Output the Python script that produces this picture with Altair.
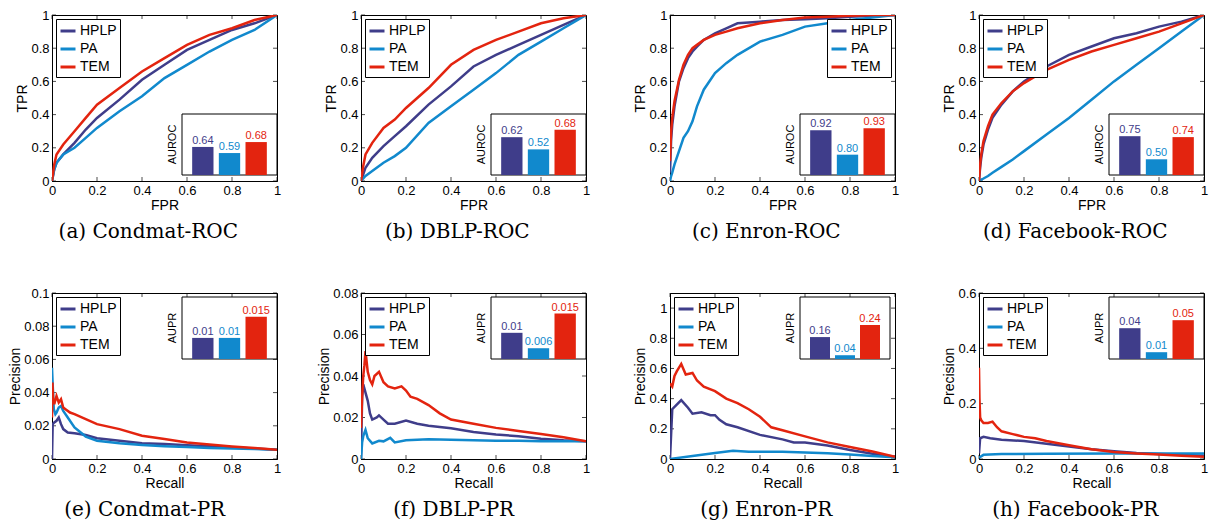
import altair as alt
import pandas as pd

METHODS = ["HPLP", "PA", "TEM"]
COLORS = ["#3f3d8a", "#1189cd", "#e3240f"]
FONT = "Liberation Sans"
SERIF = "DejaVu Serif"

# ---------------- ROC panels (shared FPR grid per panel) ----------------
a_fpr = [0, 0.01, 0.02, 0.05, 0.1, 0.15, 0.2, 0.3, 0.4, 0.5, 0.6, 0.7, 0.8, 0.9, 1.0]
a_HPLP = [0, 0.07, 0.11, 0.16, 0.23, 0.31, 0.38, 0.49, 0.61, 0.70, 0.79, 0.85, 0.91, 0.95, 1.0]
a_PA = [0, 0.07, 0.11, 0.16, 0.20, 0.26, 0.32, 0.42, 0.51, 0.62, 0.70, 0.78, 0.85, 0.91, 1.0]
a_TEM = [0, 0.10, 0.16, 0.22, 0.30, 0.38, 0.46, 0.56, 0.66, 0.74, 0.82, 0.88, 0.92, 0.97, 1.0]

b_fpr = [0, 0.01, 0.02, 0.05, 0.1, 0.15, 0.2, 0.3, 0.4, 0.5, 0.6, 0.7, 0.8, 0.9, 1.0]
b_HPLP = [0, 0.04, 0.08, 0.14, 0.21, 0.27, 0.33, 0.46, 0.57, 0.69, 0.76, 0.82, 0.88, 0.94, 1.0]
b_PA = [0, 0.015, 0.03, 0.06, 0.11, 0.15, 0.20, 0.35, 0.45, 0.55, 0.65, 0.76, 0.84, 0.92, 1.0]
b_TEM = [0, 0.09, 0.16, 0.23, 0.32, 0.37, 0.44, 0.56, 0.70, 0.79, 0.85, 0.90, 0.95, 0.98, 1.0]

c_fpr = [0, 0.005, 0.01, 0.02, 0.04, 0.06, 0.08, 0.1, 0.12, 0.15, 0.2, 0.25, 0.3, 0.4, 0.5, 0.6, 0.7, 0.8, 0.9, 1.0]
c_HPLP = [0.05, 0.25, 0.34, 0.45, 0.60, 0.68, 0.74, 0.78, 0.81, 0.85, 0.89, 0.92, 0.95, 0.96, 0.97, 0.975, 0.98, 0.99, 0.995, 1.0]
c_PA = [0, 0.03, 0.05, 0.10, 0.18, 0.26, 0.30, 0.36, 0.45, 0.55, 0.65, 0.71, 0.76, 0.84, 0.88, 0.93, 0.95, 0.97, 0.985, 1.0]
c_TEM = [0.12, 0.30, 0.38, 0.48, 0.61, 0.70, 0.76, 0.80, 0.82, 0.85, 0.88, 0.90, 0.92, 0.95, 0.97, 0.985, 0.99, 0.995, 1.0, 1.0]

d_fpr = [0, 0.005, 0.01, 0.02, 0.04, 0.06, 0.1, 0.15, 0.2, 0.3, 0.4, 0.5, 0.6, 0.7, 0.8, 0.9, 1.0]
d_HPLP = [0, 0.08, 0.14, 0.22, 0.31, 0.38, 0.46, 0.54, 0.60, 0.69, 0.76, 0.81, 0.86, 0.89, 0.93, 0.96, 1.0]
d_PA = [0, 0.004, 0.008, 0.015, 0.03, 0.05, 0.085, 0.13, 0.18, 0.28, 0.38, 0.49, 0.60, 0.70, 0.80, 0.90, 1.0]
d_TEM = [0, 0.10, 0.16, 0.24, 0.33, 0.40, 0.47, 0.54, 0.59, 0.67, 0.73, 0.78, 0.82, 0.86, 0.90, 0.95, 1.0]

# ---------------- PR panels ----------------
e_HPLP_x = [0, 0.003, 0.01, 0.02, 0.03, 0.04, 0.05, 0.07, 0.1, 0.15, 0.2, 0.3, 0.4, 0.5, 0.6, 0.7, 0.8, 0.9, 1.0]
e_HPLP_y = [0, 0.021, 0.022, 0.023, 0.025, 0.021, 0.018, 0.016, 0.0155, 0.0145, 0.0125, 0.011, 0.0095, 0.009, 0.0083, 0.0077, 0.007, 0.0063, 0.0056]
e_PA_x = [0, 0.003, 0.008, 0.015, 0.02, 0.03, 0.04, 0.05, 0.07, 0.1, 0.15, 0.2, 0.3, 0.4, 0.5, 0.6, 0.7, 0.8, 0.9, 1.0]
e_PA_y = [0.055, 0.045, 0.03, 0.027, 0.028, 0.031, 0.032, 0.029, 0.025, 0.019, 0.0135, 0.011, 0.0095, 0.0085, 0.0077, 0.0072, 0.0067, 0.0063, 0.006, 0.0056]
e_TEM_x = [0, 0.002, 0.005, 0.01, 0.02, 0.03, 0.04, 0.05, 0.06, 0.08, 0.1, 0.15, 0.2, 0.3, 0.4, 0.5, 0.6, 0.7, 0.8, 0.9, 1.0]
e_TEM_y = [0.025, 0.046, 0.036, 0.033, 0.038, 0.034, 0.036, 0.031, 0.030, 0.028, 0.027, 0.024, 0.021, 0.018, 0.014, 0.012, 0.0100, 0.0087, 0.0075, 0.0066, 0.0056]

f_HPLP_x = [0, 0.005, 0.01, 0.02, 0.03, 0.04, 0.05, 0.07, 0.08, 0.1, 0.12, 0.15, 0.2, 0.25, 0.3, 0.4, 0.5, 0.6, 0.7, 0.8, 0.9, 1.0]
f_HPLP_y = [0, 0.03, 0.036, 0.032, 0.028, 0.022, 0.019, 0.02, 0.021, 0.019, 0.017, 0.017, 0.0185, 0.017, 0.016, 0.0148, 0.013, 0.0118, 0.011, 0.0098, 0.009, 0.0085]
f_PA_x = [0, 0.005, 0.01, 0.02, 0.03, 0.05, 0.08, 0.1, 0.13, 0.15, 0.2, 0.3, 0.4, 0.5, 0.6, 0.7, 0.8, 0.9, 1.0]
f_PA_y = [0, 0.008, 0.011, 0.014, 0.010, 0.0075, 0.0088, 0.0085, 0.0102, 0.008, 0.009, 0.0095, 0.0093, 0.009, 0.0088, 0.0088, 0.0086, 0.0085, 0.0085]
f_TEM_x = [0, 0.005, 0.01, 0.015, 0.02, 0.03, 0.04, 0.05, 0.06, 0.08, 0.1, 0.12, 0.15, 0.18, 0.2, 0.22, 0.25, 0.3, 0.35, 0.4, 0.5, 0.6, 0.7, 0.8, 0.9, 1.0]
f_TEM_y = [0.015, 0.03, 0.04, 0.045, 0.052, 0.042, 0.038, 0.036, 0.040, 0.042, 0.037, 0.035, 0.034, 0.035, 0.033, 0.030, 0.029, 0.026, 0.022, 0.019, 0.017, 0.015, 0.0135, 0.012, 0.0105, 0.0085]

g_HPLP_x = [0, 0.01, 0.03, 0.05, 0.08, 0.1, 0.14, 0.18, 0.2, 0.22, 0.25, 0.3, 0.4, 0.5, 0.55, 0.6, 0.7, 0.8, 0.9, 1.0]
g_HPLP_y = [0, 0.33, 0.36, 0.39, 0.34, 0.30, 0.31, 0.29, 0.29, 0.26, 0.23, 0.21, 0.16, 0.13, 0.11, 0.11, 0.09, 0.06, 0.035, 0.015]
g_PA_x = [0, 0.1, 0.2, 0.28, 0.35, 0.5, 0.6, 0.7, 0.8, 0.9, 1.0]
g_PA_y = [0, 0.02, 0.04, 0.055, 0.048, 0.048, 0.043, 0.038, 0.03, 0.02, 0.012]
g_TEM_x = [0, 0.01, 0.02, 0.03, 0.05, 0.07, 0.1, 0.12, 0.15, 0.2, 0.25, 0.3, 0.35, 0.4, 0.45, 0.5, 0.6, 0.7, 0.8, 0.9, 1.0]
g_TEM_y = [0.50, 0.48, 0.55, 0.58, 0.63, 0.56, 0.57, 0.52, 0.48, 0.45, 0.40, 0.37, 0.33, 0.28, 0.21, 0.19, 0.15, 0.11, 0.08, 0.05, 0.015]

h_HPLP_x = [0, 0.005, 0.02, 0.05, 0.1, 0.2, 0.3, 0.4, 0.5, 0.6, 0.7, 0.8, 0.9, 1.0]
h_HPLP_y = [0.02, 0.075, 0.08, 0.075, 0.07, 0.065, 0.055, 0.045, 0.035, 0.028, 0.022, 0.018, 0.015, 0.012]
h_PA_x = [0, 0.02, 0.1, 0.3, 0.6, 1.0]
h_PA_y = [0.005, 0.015, 0.018, 0.019, 0.02, 0.02]
h_TEM_x = [0, 0.002, 0.005, 0.01, 0.02, 0.04, 0.06, 0.08, 0.1, 0.15, 0.2, 0.25, 0.3, 0.4, 0.5, 0.6, 0.7, 0.8, 0.9, 1.0]
h_TEM_y = [0.33, 0.22, 0.15, 0.14, 0.13, 0.13, 0.135, 0.115, 0.10, 0.09, 0.08, 0.075, 0.065, 0.05, 0.035, 0.025, 0.02, 0.016, 0.012, 0.008]

# ---------------- inset bar values (AUROC / AUPR) ----------------
auc_a = [0.64, 0.59, 0.68]
auc_b = [0.62, 0.52, 0.68]
auc_c = [0.92, 0.80, 0.93]
auc_d = [0.75, 0.50, 0.74]
aupr_e = [0.01, 0.01, 0.015]
aupr_f = [0.01, 0.006, 0.015]
aupr_g = [0.16, 0.04, 0.24]
aupr_h = [0.04, 0.01, 0.05]

captions = ["(a) Condmat-ROC", "(b) DBLP-ROC", "(c) Enron-ROC", "(d) Facebook-ROC",
            "(e) Condmat-PR", "(f) DBLP-PR", "(g) Enron-PR", "(h) Facebook-PR"]

W, H = 225, 166
ROC_TICKS = [0, 0.2, 0.4, 0.6, 0.8, 1]
TICK_LEN = 4


def curves_df(series):
    rows = []
    for m, (xs, ys) in series.items():
        for i, (xv, yv) in enumerate(zip(xs, ys)):
            rows.append({"method": m, "x": xv, "y": yv, "i": i})
    return pd.DataFrame(rows)


def panel(series, caption, xtitle, ytitle, ydom, yticks, inset_title, vals, ifmt,
          idom, inset_box, legend_orient="top-left"):
    L, R, T, B = inset_box
    df = curves_df(series)
    xsc = alt.Scale(domain=[0, 1], nice=False)
    ysc = alt.Scale(domain=ydom, nice=False)
    xax = alt.Axis(values=ROC_TICKS, format="~g", title=xtitle)
    yax = alt.Axis(values=yticks, format="~g", title=ytitle)
    lines = alt.Chart(df).mark_line(strokeWidth=2.5, clip=True).encode(
        x=alt.X("x:Q", scale=xsc, axis=xax),
        y=alt.Y("y:Q", scale=ysc, axis=yax),
        color=alt.Color("method:N", scale=alt.Scale(domain=METHODS, range=COLORS),
                        legend=alt.Legend(title=None, orient=legend_orient, offset=4,
                                          symbolType="stroke", symbolStrokeWidth=3,
                                          symbolSize=225, labelFont=FONT, labelFontSize=14,
                                          labelColor="black", strokeColor="black",
                                          fillColor="white", padding=3, rowPadding=2,
                                          labelOffset=3)),
        order="i:Q",
    )
    # inward tick marks on all four sides (MATLAB style box)
    xt = pd.DataFrame({"x": ROC_TICKS})
    yt = pd.DataFrame({"y": yticks})
    tb = alt.Chart(xt).mark_tick(orient="vertical", size=TICK_LEN, thickness=1, color="black").encode(
        x=alt.X("x:Q", scale=xsc, axis=xax), y=alt.value(H - TICK_LEN / 2))
    tt = alt.Chart(xt).mark_tick(orient="vertical", size=TICK_LEN, thickness=1, color="black").encode(
        x=alt.X("x:Q", scale=xsc, axis=xax), y=alt.value(TICK_LEN / 2))
    tl = alt.Chart(yt).mark_tick(orient="horizontal", size=TICK_LEN, thickness=1, color="black").encode(
        y=alt.Y("y:Q", scale=ysc, axis=yax), x=alt.value(TICK_LEN / 2))
    tr = alt.Chart(yt).mark_tick(orient="horizontal", size=TICK_LEN, thickness=1, color="black").encode(
        y=alt.Y("y:Q", scale=ysc, axis=yax), x=alt.value(W - TICK_LEN / 2))
    main = alt.layer(tb, tt, tl, tr, lines)

    frame = alt.Chart(pd.DataFrame({"k": [0]})).mark_rect(
        fill="white", stroke="black", strokeWidth=1).encode(
        x=alt.value(L), x2=alt.value(R), y=alt.value(T), y2=alt.value(B))
    idf = pd.DataFrame({"method": METHODS, "val": vals})
    step = (R - L - 15) / 3.0
    xs = alt.Scale(domain=METHODS, range=[L + 7.5, L + 7.5 + 3 * step],
                   paddingInner=0.2, paddingOuter=0.1)
    ys = alt.Scale(domain=idom, range=[B, T], nice=False, zero=False)
    fs = alt.Scale(domain=METHODS, range=COLORS)
    bars = alt.Chart(idf).mark_bar().encode(
        x=alt.X("method:N", scale=xs, axis=None, sort=METHODS),
        y=alt.Y("val:Q", scale=ys, axis=None),
        y2=alt.Y2(datum=idom[0]),
        fill=alt.Fill("method:N", scale=fs, legend=None),
    )
    labels = alt.Chart(idf).mark_text(baseline="bottom", dy=-1, font=FONT, fontSize=11).encode(
        x=alt.X("method:N", scale=xs, axis=None, sort=METHODS),
        y=alt.Y("val:Q", scale=ys, axis=None),
        text=alt.Text("val:Q", format=ifmt),
        fill=alt.Fill("method:N", scale=fs, legend=None),
    )
    ititle = alt.Chart(pd.DataFrame({"t": [inset_title]})).mark_text(
        angle=270, align="center", baseline="middle", font=FONT, fontSize=11,
        color="black").encode(
        text="t:N", x=alt.value(L - 9), y=alt.value((T + B) / 2))
    inset = alt.layer(bars, labels)
    return alt.layer(main, frame, inset, ititle).resolve_scale(
        x="independent", y="independent").properties(
        width=W, height=H,
        title=alt.TitleParams(caption, orient="bottom", font=SERIF, fontSize=20,
                              fontWeight="normal", color="black", offset=10,
                              frame="bounds", anchor="middle"))


TOP_BOX = (130, 225, 99, 160)
BOT_BOX = (130, 225, 4, 66)

pa = panel({"HPLP": (a_fpr, a_HPLP), "PA": (a_fpr, a_PA), "TEM": (a_fpr, a_TEM)},
           captions[0], "FPR", "TPR", [0, 1], ROC_TICKS, "AUROC", auc_a, ".2f",
           [0.41, 0.91], TOP_BOX)
pb = panel({"HPLP": (b_fpr, b_HPLP), "PA": (b_fpr, b_PA), "TEM": (b_fpr, b_TEM)},
           captions[1], "FPR", "TPR", [0, 1], ROC_TICKS, "AUROC", auc_b, ".2f",
           [0.31, 0.81], TOP_BOX)
pc = panel({"HPLP": (c_fpr, c_HPLP), "PA": (c_fpr, c_PA), "TEM": (c_fpr, c_TEM)},
           captions[2], "FPR", "TPR", [0, 1], ROC_TICKS, "AUROC", auc_c, ".2f",
           [0.70, 1.0], TOP_BOX, legend_orient="top-right")
pd_ = panel({"HPLP": (d_fpr, d_HPLP), "PA": (d_fpr, d_PA), "TEM": (d_fpr, d_TEM)},
            captions[3], "FPR", "TPR", [0, 1], ROC_TICKS, "AUROC", auc_d, ".2f",
            [0.33, 0.99], TOP_BOX)
pe = panel({"HPLP": (e_HPLP_x, e_HPLP_y), "PA": (e_PA_x, e_PA_y), "TEM": (e_TEM_x, e_TEM_y)},
           captions[4], "Recall", "Precision", [0, 0.1], [0, 0.02, 0.04, 0.06, 0.08, 0.1],
           "AUPR", aupr_e, "~g", [0.005, 0.0197], BOT_BOX)
pf = panel({"HPLP": (f_HPLP_x, f_HPLP_y), "PA": (f_PA_x, f_PA_y), "TEM": (f_TEM_x, f_TEM_y)},
           captions[5], "Recall", "Precision", [0, 0.08], [0, 0.02, 0.04, 0.06, 0.08],
           "AUPR", aupr_f, "~g", [0.0032, 0.0193], BOT_BOX)
pg = panel({"HPLP": (g_HPLP_x, g_HPLP_y), "PA": (g_PA_x, g_PA_y), "TEM": (g_TEM_x, g_TEM_y)},
           captions[6], "Recall", "Precision", [0, 1.1], ROC_TICKS,
           "AUPR", aupr_g, "~g", [0.015, 0.425], (130, 220, 4, 66))
ph = panel({"HPLP": (h_HPLP_x, h_HPLP_y), "PA": (h_PA_x, h_PA_y), "TEM": (h_TEM_x, h_TEM_y)},
           captions[7], "Recall", "Precision", [0, 0.6], [0, 0.2, 0.4, 0.6],
           "AUPR", aupr_h, "~g", [0.0015, 0.079], BOT_BOX)

RES = dict(color="independent", fill="independent", x="independent", y="independent")

chart = alt.concat(pa, pb, pc, pd_, pe, pf, pg, ph, columns=4,
                   spacing={"row": 112, "column": 84}, bounds="flush").resolve_scale(**RES).resolve_legend(
    color="independent").properties(padding={"left": 0, "top": 0, "right": 0, "bottom": 0}).configure_view(
    stroke="black", strokeWidth=1).configure_axis(
    labelFont=FONT, labelFontSize=13, labelColor="black", titleFont=FONT, titleFontSize=14,
    titleFontWeight="normal", titleColor="black", domainColor="black", ticks=False,
    grid=False, labelPadding=3, titlePadding=1, labelFlush=False, labelOverlap=False)

chart.save("out.html", embed_options={"renderer": "svg", "actions": False})
